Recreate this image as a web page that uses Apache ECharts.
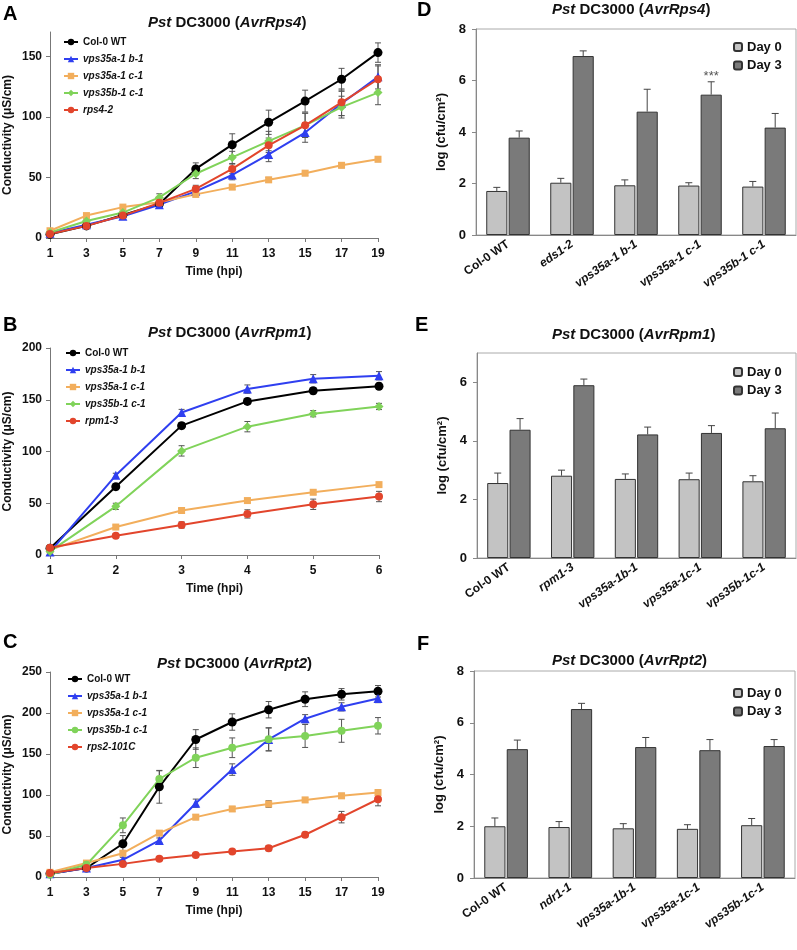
<!DOCTYPE html>
<html><head><meta charset="utf-8">
<script src="https://cdn.jsdelivr.net/npm/echarts@6/dist/echarts.min.js"></script>
<style>html,body{margin:0;padding:0;background:#fff}#c{width:797px;height:950px}</style>
</head><body><div id="c"></div>
<script>
// ---------- DATA ----------
const hoursAC = ['1','3','5','7','9','11','13','15','17','19'];
const hoursB = ['1','2','3','4','5','6'];

const namesA = ['Col-0 WT','vps35a-1 b-1','vps35a-1 c-1','vps35b-1 c-1','rps4-2'];
const namesB = ['Col-0 WT','vps35a-1 b-1','vps35a-1 c-1','vps35b-1 c-1','rpm1-3'];
const namesC = ['Col-0 WT','vps35a-1 b-1','vps35a-1 c-1','vps35b-1 c-1','rps2-101C'];

// Panel A  (AvrRps4 conductivity)
const aCol0 = [3, 10, 19, 28, 57, 77, 95.5, 113, 131, 153];
const aCol0Err = [1, 1, 1, 2, 5, 9, 10, 9, 9, 8];
const aB1 = [4, 11, 18, 27.5, 38.5, 52, 69, 87, 111, 133];
const aB1Err = [1, 1, 1, 2, 3, 4, 6, 8, 10, 10];
const aC1 = [6, 18.5, 25.5, 29.5, 36, 42, 48, 53.5, 60, 65];
const aC1Err = [1, 1, 1, 1, 2, 2, 2, 2, 2, 2];
const aBC1 = [4.5, 14, 21, 33.5, 53, 66.5, 80, 93, 108, 120];
const aBC1Err = [1, 1, 1, 3, 4, 5, 8, 10, 9, 10];
const aMut = [3.3, 10, 18.5, 29, 40.5, 57, 76.5, 93, 112, 131];
const aMutErr = [1, 1, 1, 2, 3, 4, 6, 10, 11, 11];

// Panel B  (AvrRpm1 conductivity)
const bCol0 = [6.5, 66, 125, 148.4, 158.7, 163];
const bCol0Err = [1, 3, 3, 3, 3, 3];
const bB1 = [3, 77, 137.7, 160.3, 170.3, 173.2];
const bB1Err = [1, 2, 3, 4, 4, 4];
const bC1 = [5, 27, 43, 52.6, 60.6, 68];
const bC1Err = [1, 2, 2, 2, 2, 2];
const bBC1 = [3.5, 47, 100.6, 124, 136.5, 143.5];
const bBC1Err = [1, 3, 5, 5, 3, 3];
const bMut = [7, 18.7, 29, 39.7, 49, 56.5];
const bMutErr = [1, 2, 3, 4, 5, 5];

// Panel C  (AvrRpt2 conductivity)
const cCol0 = [4, 11, 40.5, 110, 167.7, 189, 204, 216.8, 222.8, 226.5];
const cCol0Err = [2, 2, 10, 20, 12, 10, 10, 9, 7, 7];
const cB1 = [4, 11, 21, 44.6, 90, 131, 167.7, 193, 207.5, 217.6];
const cB1Err = [1, 2, 3, 3, 5, 7, 14, 5, 5, 5];
const cC1 = [5.7, 17, 29, 53.5, 73, 83, 89, 94, 99, 103];
const cC1Err = [2, 2, 3, 3, 3, 3, 4, 3, 3, 3];
const cBC1 = [3, 15, 63, 119.5, 145.5, 157.6, 168, 172, 178.3, 184.4];
const cBC1Err = [2, 3, 9, 10, 12, 12, 14, 14, 14, 10];
const cMut = [5, 11, 16, 22.3, 26.7, 31, 35, 51.5, 73, 94.8];
const cMutErr = [1, 2, 2, 2, 2, 2, 3, 3, 7, 8];

// Panel D  (AvrRps4 growth)
const genoD = ['Col-0 WT','eds1-2','vps35a-1 b-1','vps35a-1 c-1','vps35b-1 c-1'];
const dDay0 = [1.71, 2.03, 1.93, 1.92, 1.88];
const dDay0Err = [0.14, 0.17, 0.21, 0.11, 0.2];
const dDay3 = [3.78, 6.95, 4.79, 5.45, 4.17];
const dDay3Err = [0.26, 0.2, 0.87, 0.5, 0.55];
const dSig = ['', '', '', '***', ''];

// Panel E  (AvrRpm1 growth)
const genoE = ['Col-0 WT','rpm1-3','vps35a-1b-1','vps35a-1c-1','vps35b-1c-1'];
const eDay0 = [2.56, 2.81, 2.70, 2.69, 2.62];
const eDay0Err = [0.34, 0.19, 0.17, 0.21, 0.19];
const eDay3 = [4.38, 5.9, 4.22, 4.27, 4.43];
const eDay3Err = [0.38, 0.21, 0.25, 0.25, 0.52];

// Panel F  (AvrRpt2 growth)
const genoF = ['Col-0 WT','ndr1-1','vps35a-1b-1','vps35a-1c-1','vps35b-1c-1'];
const fDay0 = [2.0, 1.97, 1.92, 1.9, 2.04];
const fDay0Err = [0.32, 0.21, 0.18, 0.16, 0.26];
const fDay3 = [4.98, 6.53, 5.06, 4.94, 5.1];
const fDay3Err = [0.35, 0.22, 0.37, 0.41, 0.25];

// ---------- STYLE ----------
const FONT = 'Liberation Sans, Arial, Helvetica, sans-serif';
const C_BLACK = '#000000', C_BLUE = '#2f3ff0', C_ORANGE = '#f2ae5c', C_GREEN = '#80d35a', C_RED = '#e2452c';
const DAY0 = '#c3c3c3', DAY3 = '#7a7a7a';
const ZW = n => '\u200b'.repeat(n);
const strip = s => s.replace(/\u200b/g, '');

const chart = echarts.init(document.getElementById('c'), null, {renderer: 'canvas'});

function lineErr(color) {
  return function (params, api) {
    const x = api.value(0), y = api.value(1), e = api.value(2);
    const hi = api.coord([x, y + e]);
    const lo = api.coord([x, y - e]);
    const cw = 3;
    const st = {stroke: '#555', lineWidth: 1};
    return {type: 'group', children: [
      {type: 'line', shape: {x1: hi[0], y1: hi[1], x2: lo[0], y2: lo[1]}, style: st},
      {type: 'line', shape: {x1: hi[0] - cw, y1: hi[1], x2: hi[0] + cw, y2: hi[1]}, style: st},
      {type: 'line', shape: {x1: lo[0] - cw, y1: lo[1], x2: lo[0] + cw, y2: lo[1]}, style: st}
    ]};
  };
}
const CAT_GAP = 0.32, BAR_GAP = 0.06;
function barErr(sign) {
  return function (params, api) {
    const x = api.value(0), y = api.value(1), e = api.value(2);
    const band = api.size([1, 0])[0];
    const w = band * (1 - CAT_GAP) / (2 + BAR_GAP);
    const off = sign * (w + BAR_GAP * w) / 2;
    const b = api.coord([x, y]);
    const t = api.coord([x, y + e]);
    const cx = b[0] + off;
    const st = {stroke: '#444', lineWidth: 1};
    return {type: 'group', children: [
      {type: 'line', shape: {x1: cx, y1: b[1], x2: cx, y2: t[1]}, style: st},
      {type: 'line', shape: {x1: cx - 3.5, y1: t[1], x2: cx + 3.5, y2: t[1]}, style: st}
    ]};
  };
}

const series = [];
function addLine(gi, name, vals, errs, color, symbol, size) {
  series.push({
    type: 'custom', xAxisIndex: gi, yAxisIndex: gi, z: 1, silent: true,
    renderItem: lineErr(color), encode: {x: 0, y: 1},
    data: vals.map((v, i) => [i, v, errs[i]])
  });
  series.push({
    type: 'line', name: name, xAxisIndex: gi, yAxisIndex: gi, z: 3,
    data: vals, symbol: symbol, symbolSize: size, showSymbol: true,
    lineStyle: {color: color, width: 2}, itemStyle: {color: color},
    animation: false
  });
}
function addBars(gi, suffix, d0, e0, d3, e3, sig) {
  series.push({
    type: 'bar', name: 'Day 0' + suffix, xAxisIndex: gi, yAxisIndex: gi,
    data: d0, barCategoryGap: (CAT_GAP * 100) + '%', barGap: (BAR_GAP * 100) + '%',
    itemStyle: {color: DAY0, borderColor: '#333', borderWidth: 1}
  });
  series.push({
    type: 'bar', name: 'Day 3' + suffix, xAxisIndex: gi, yAxisIndex: gi,
    data: d3, barCategoryGap: (CAT_GAP * 100) + '%', barGap: (BAR_GAP * 100) + '%',
    itemStyle: {color: DAY3, borderColor: '#333', borderWidth: 1},
    label: sig ? {show: true, position: 'top', distance: 12, color: '#555', fontSize: 13,
      fontFamily: FONT, formatter: p => sig[p.dataIndex]} : {show: false}
  });
  series.push({type: 'custom', xAxisIndex: gi, yAxisIndex: gi, z: 4, silent: true,
    renderItem: barErr(-1), encode: {x: 0, y: 1}, data: d0.map((v, i) => [i, v, e0[i]])});
  series.push({type: 'custom', xAxisIndex: gi, yAxisIndex: gi, z: 4, silent: true,
    renderItem: barErr(1), encode: {x: 0, y: 1}, data: d3.map((v, i) => [i, v, e3[i]])});
}

// line panels
const lineSpecs = [
  {gi: 0, names: namesA, sets: [[aCol0, aCol0Err], [aB1, aB1Err], [aC1, aC1Err], [aBC1, aBC1Err], [aMut, aMutErr]], greenSym: 'diamond'},
  {gi: 1, names: namesB, sets: [[bCol0, bCol0Err], [bB1, bB1Err], [bC1, bC1Err], [bBC1, bBC1Err], [bMut, bMutErr]], greenSym: 'diamond'},
  {gi: 2, names: namesC, sets: [[cCol0, cCol0Err], [cB1, cB1Err], [cC1, cC1Err], [cBC1, cBC1Err], [cMut, cMutErr]], greenSym: 'circle'}
];
const colors = [C_BLACK, C_BLUE, C_ORANGE, C_GREEN, C_RED];
const legends = [];
lineSpecs.forEach(sp => {
  const syms = ['circle', 'triangle', 'rect', sp.greenSym, 'circle'];
  const sizes = [9, 9, 7, sp.greenSym === 'diamond' ? 9 : 8, 8];
  const ln = sp.names.map(n => n + ZW(sp.gi));
  sp.sets.forEach((s, k) => addLine(sp.gi, ln[k], s[0], s[1], colors[k], syms[k], sizes[k]));
  sp.legendNames = ln;
});
addBars(3, '', dDay0, dDay0Err, dDay3, dDay3Err, dSig);
addBars(4, ZW(1), eDay0, eDay0Err, eDay3, eDay3Err, null);
addBars(5, ZW(2), fDay0, fDay0Err, fDay3, fDay3Err, null);

const grids = [
  {left: 50, top: 32, right: 419, bottom: 712},
  {left: 50, top: 348, right: 418, bottom: 395},
  {left: 50, top: 672, right: 419, bottom: 73},
  {left: 476, top: 29, right: 1, bottom: 715, show: true, borderColor: '#aaa', borderWidth: 1},
  {left: 477, top: 353, right: 1, bottom: 392, show: true, borderColor: '#aaa', borderWidth: 1},
  {left: 474, top: 671, right: 2, bottom: 72, show: true, borderColor: '#aaa', borderWidth: 1}
];

const boldLbl = {color: '#111', fontWeight: 'bold', fontSize: 12, fontFamily: FONT};
function lineX(gi, cats) {
  return {gridIndex: gi, type: 'category', data: cats, boundaryGap: false,
    axisLine: {lineStyle: {color: '#777', width: 1}},
    axisTick: {length: 4, lineStyle: {color: '#777'}},
    axisLabel: Object.assign({margin: 10}, boldLbl),
    name: 'Time (hpi)', nameLocation: 'middle', nameGap: 28,
    nameTextStyle: {color: '#111', fontWeight: 'bold', fontSize: 12, fontFamily: FONT}};
}
function lineY(gi, max, interval) {
  return {gridIndex: gi, type: 'value', min: 0, max: max, interval: interval,
    axisLine: {show: true, lineStyle: {color: '#777'}},
    axisTick: {show: true, length: 4, lineStyle: {color: '#777'}},
    splitLine: {show: false},
    axisLabel: Object.assign({margin: 8, showMaxLabel: max % interval === 0}, boldLbl),
    name: 'Conductivity (μS/cm)', nameLocation: 'middle', nameGap: 36,
    nameTextStyle: {color: '#111', fontWeight: 'bold', fontSize: 12, fontFamily: FONT}};
}
function barX(gi, cats) {
  return {gridIndex: gi, type: 'category', data: cats,
    axisLine: {lineStyle: {color: '#888'}},
    axisTick: {length: 4, lineStyle: {color: '#888'}},
    axisLabel: {interval: 0, rotate: 35, margin: 8,
      formatter: v => v === 'Col-0 WT' ? '{n|' + v + '}' : '{i|' + v + '}',
      rich: {n: Object.assign({fontSize: 12}, boldLbl), i: Object.assign({fontStyle: 'italic'}, boldLbl)}}};
}
function barY(gi, max) {
  return {gridIndex: gi, type: 'value', min: 0, max: max, interval: 2,
    axisLine: {show: true, lineStyle: {color: '#888'}},
    axisTick: {show: true, length: 4, lineStyle: {color: '#888'}},
    splitLine: {show: false},
    axisLabel: Object.assign({margin: 10, showMaxLabel: max % 2 === 0}, boldLbl, {fontSize: 13}),
    name: 'log (cfu/cm²)', nameLocation: 'middle', nameGap: 28,
    nameTextStyle: {color: '#111', fontWeight: 'bold', fontSize: 13, fontFamily: FONT}};
}

const legRich = {
  n: {color: '#111', fontWeight: 'bold', fontSize: 10, fontFamily: FONT},
  i: {color: '#111', fontWeight: 'bold', fontStyle: 'italic', fontSize: 10, fontFamily: FONT}
};
function lineLegend(names, left, top) {
  return {data: names, orient: 'vertical', left: left, top: top, itemWidth: 14, itemHeight: 8,
    itemGap: 5, selectedMode: false, padding: 0,
    textStyle: {fontSize: 10, lineHeight: 12, rich: legRich},
    formatter: n => (strip(n) === 'Col-0 WT' ? '{n|' : '{i|') + strip(n) + '}'};
}
function barLegend(suffix, top) {
  return {data: ['Day 0' + suffix, 'Day 3' + suffix], orient: 'vertical', left: 733, top: top,
    itemWidth: 8, itemHeight: 8, itemGap: 3.5, selectedMode: false, padding: 0,
    textStyle: {color: '#111', fontWeight: 'bold', fontSize: 13, lineHeight: 15, fontFamily: FONT},
    formatter: n => strip(n)};
}

const titleRich = {i: {fontStyle: 'italic', fontWeight: 'bold', fontSize: 15, color: '#111', fontFamily: FONT}};
function mkTitle(avr, left, top) {
  return {text: '{i|Pst} DC3000 ({i|' + avr + '})', left: left, top: top, padding: 0,
    textStyle: {fontWeight: 'bold', fontSize: 15, color: '#111', fontFamily: FONT, lineHeight: 18, rich: titleRich}};
}

function letter(t, x, y) {
  return {type: 'text', left: x, top: y, style: {text: t, font: 'bold 20px ' + FONT, fill: '#000'}};
}

chart.setOption({
  animation: false,
  textStyle: {fontFamily: FONT},
  grid: grids,
  xAxis: [lineX(0, hoursAC), lineX(1, hoursB), lineX(2, hoursAC), barX(3, genoD), barX(4, genoE), barX(5, genoF)],
  yAxis: [lineY(0, 170, 50), lineY(1, 200, 50), lineY(2, 250, 50), barY(3, 8), barY(4, 7), barY(5, 8)],
  title: [mkTitle('AvrRps4', 148, 14), mkTitle('AvrRpm1', 148, 324), mkTitle('AvrRpt2', 157, 655),
          mkTitle('AvrRps4', 552, 1), mkTitle('AvrRpm1', 552, 326), mkTitle('AvrRpt2', 552, 652)],
  legend: [lineLegend(lineSpecs[0].legendNames, 63, 36), lineLegend(lineSpecs[1].legendNames, 65, 347),
           lineLegend(lineSpecs[2].legendNames, 67, 673),
           barLegend('', 39.5), barLegend(ZW(1), 364.5), barLegend(ZW(2), 685.5)],
  graphic: [letter('A', 3, 4), letter('B', 3, 315), letter('C', 3, 632), letter('D', 417, 0),
            letter('E', 415, 315), letter('F', 417, 634)],
  series: series
});
</script></body></html>
